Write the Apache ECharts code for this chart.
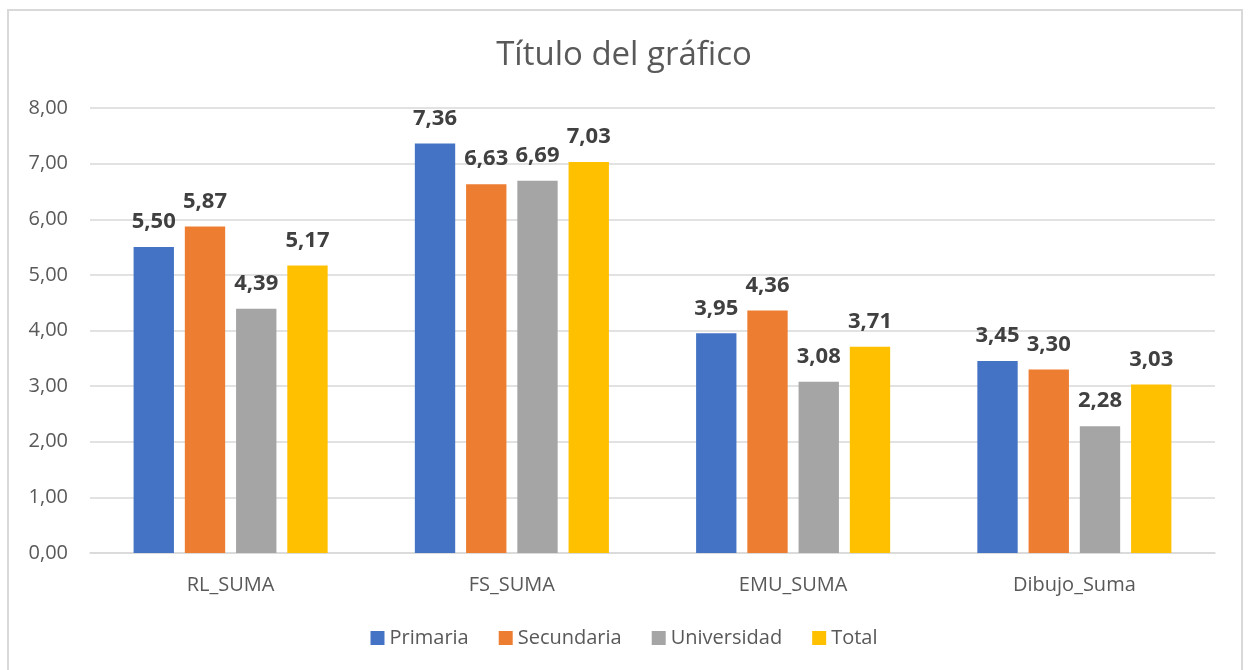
<!doctype html>
<html lang="es">
<head>
<meta charset="UTF-8">
<script src="https://cdn.jsdelivr.net/npm/echarts@6/dist/echarts.min.js"></script>
<title>Título del gráfico</title>
<style>
    html, body { margin: 0; padding: 0; background: #fff; }
    #main { position: absolute; left: 0; top: 0; width: 1248px; height: 670px; }
    #frame { position: absolute; left: 7px; top: 9px; width: 1236px; height: 670px;
             border: 2px solid #d9d9d9; box-sizing: border-box; pointer-events: none; }
</style>
</head>
<body>
<div id="main"></div>
<div id="frame"></div>
<script>
    // datos del gráfico
    var categorias = ['RL_SUMA', 'FS_SUMA', 'EMU_SUMA', 'Dibujo_Suma'];
    var primaria = [5.50, 7.36, 3.95, 3.45];
    var secundaria = [5.87, 6.63, 4.36, 3.30];
    var universidad = [4.39, 6.69, 3.08, 2.28];
    var total = [5.17, 7.03, 3.71, 3.03];

    var fuente = '"Open Sans", "Noto Sans", sans-serif';

    function coma(v) {
        return v.toFixed(2).replace('.', ',');
    }

    function serie(nombre, datos, color) {
        return {
            name: nombre,
            type: 'bar',
            data: datos,
            barGap: '27%',
            barCategoryGap: '31%',
            itemStyle: { color: color },
            label: {
                show: true,
                position: 'top',
                distance: 14,
                fontFamily: fuente,
                fontSize: 22,
                fontWeight: 'bold',
                color: '#404040',
                formatter: function (p) { return coma(p.value); }
            }
        };
    }

    var myChart = echarts.init(document.getElementById('main'));
    var option = {
        animation: false,
        title: {
            text: 'Título del gráfico',
            left: 'center',
            top: 34,
            textStyle: { fontFamily: fuente, fontSize: 33, fontWeight: 'normal', color: '#595959' }
        },
        legend: {
            bottom: 17,
            left: 'center',
            itemWidth: 14,
            itemHeight: 14,
            itemGap: 30,
            icon: 'rect',
            textStyle: { fontFamily: fuente, fontSize: 20, color: '#595959' },
            data: ['Primaria', 'Secundaria', 'Universidad', 'Total']
        },
        grid: { left: 90, right: 33, top: 108, bottom: 117 },
        xAxis: {
            type: 'category',
            data: categorias,
            axisTick: { show: false },
            axisLine: { lineStyle: { color: '#d9d9d9', width: 1.5 } },
            axisLabel: { fontFamily: fuente, fontSize: 20, color: '#595959', margin: 22 }
        },
        yAxis: {
            type: 'value',
            min: 0,
            max: 8,
            interval: 1,
            axisLine: { show: false },
            axisTick: { show: false },
            splitLine: { lineStyle: { color: '#d9d9d9', width: 1.5 } },
            axisLabel: {
                fontFamily: fuente, fontSize: 20, color: '#595959', margin: 22,
                formatter: function (v) { return coma(v); }
            }
        },
        series: [
            serie('Primaria', primaria, '#4472c4'),
            serie('Secundaria', secundaria, '#ed7d31'),
            serie('Universidad', universidad, '#a5a5a5'),
            serie('Total', total, '#ffc000')
        ]
    };
    myChart.setOption(option);
</script>
</body>
</html>
